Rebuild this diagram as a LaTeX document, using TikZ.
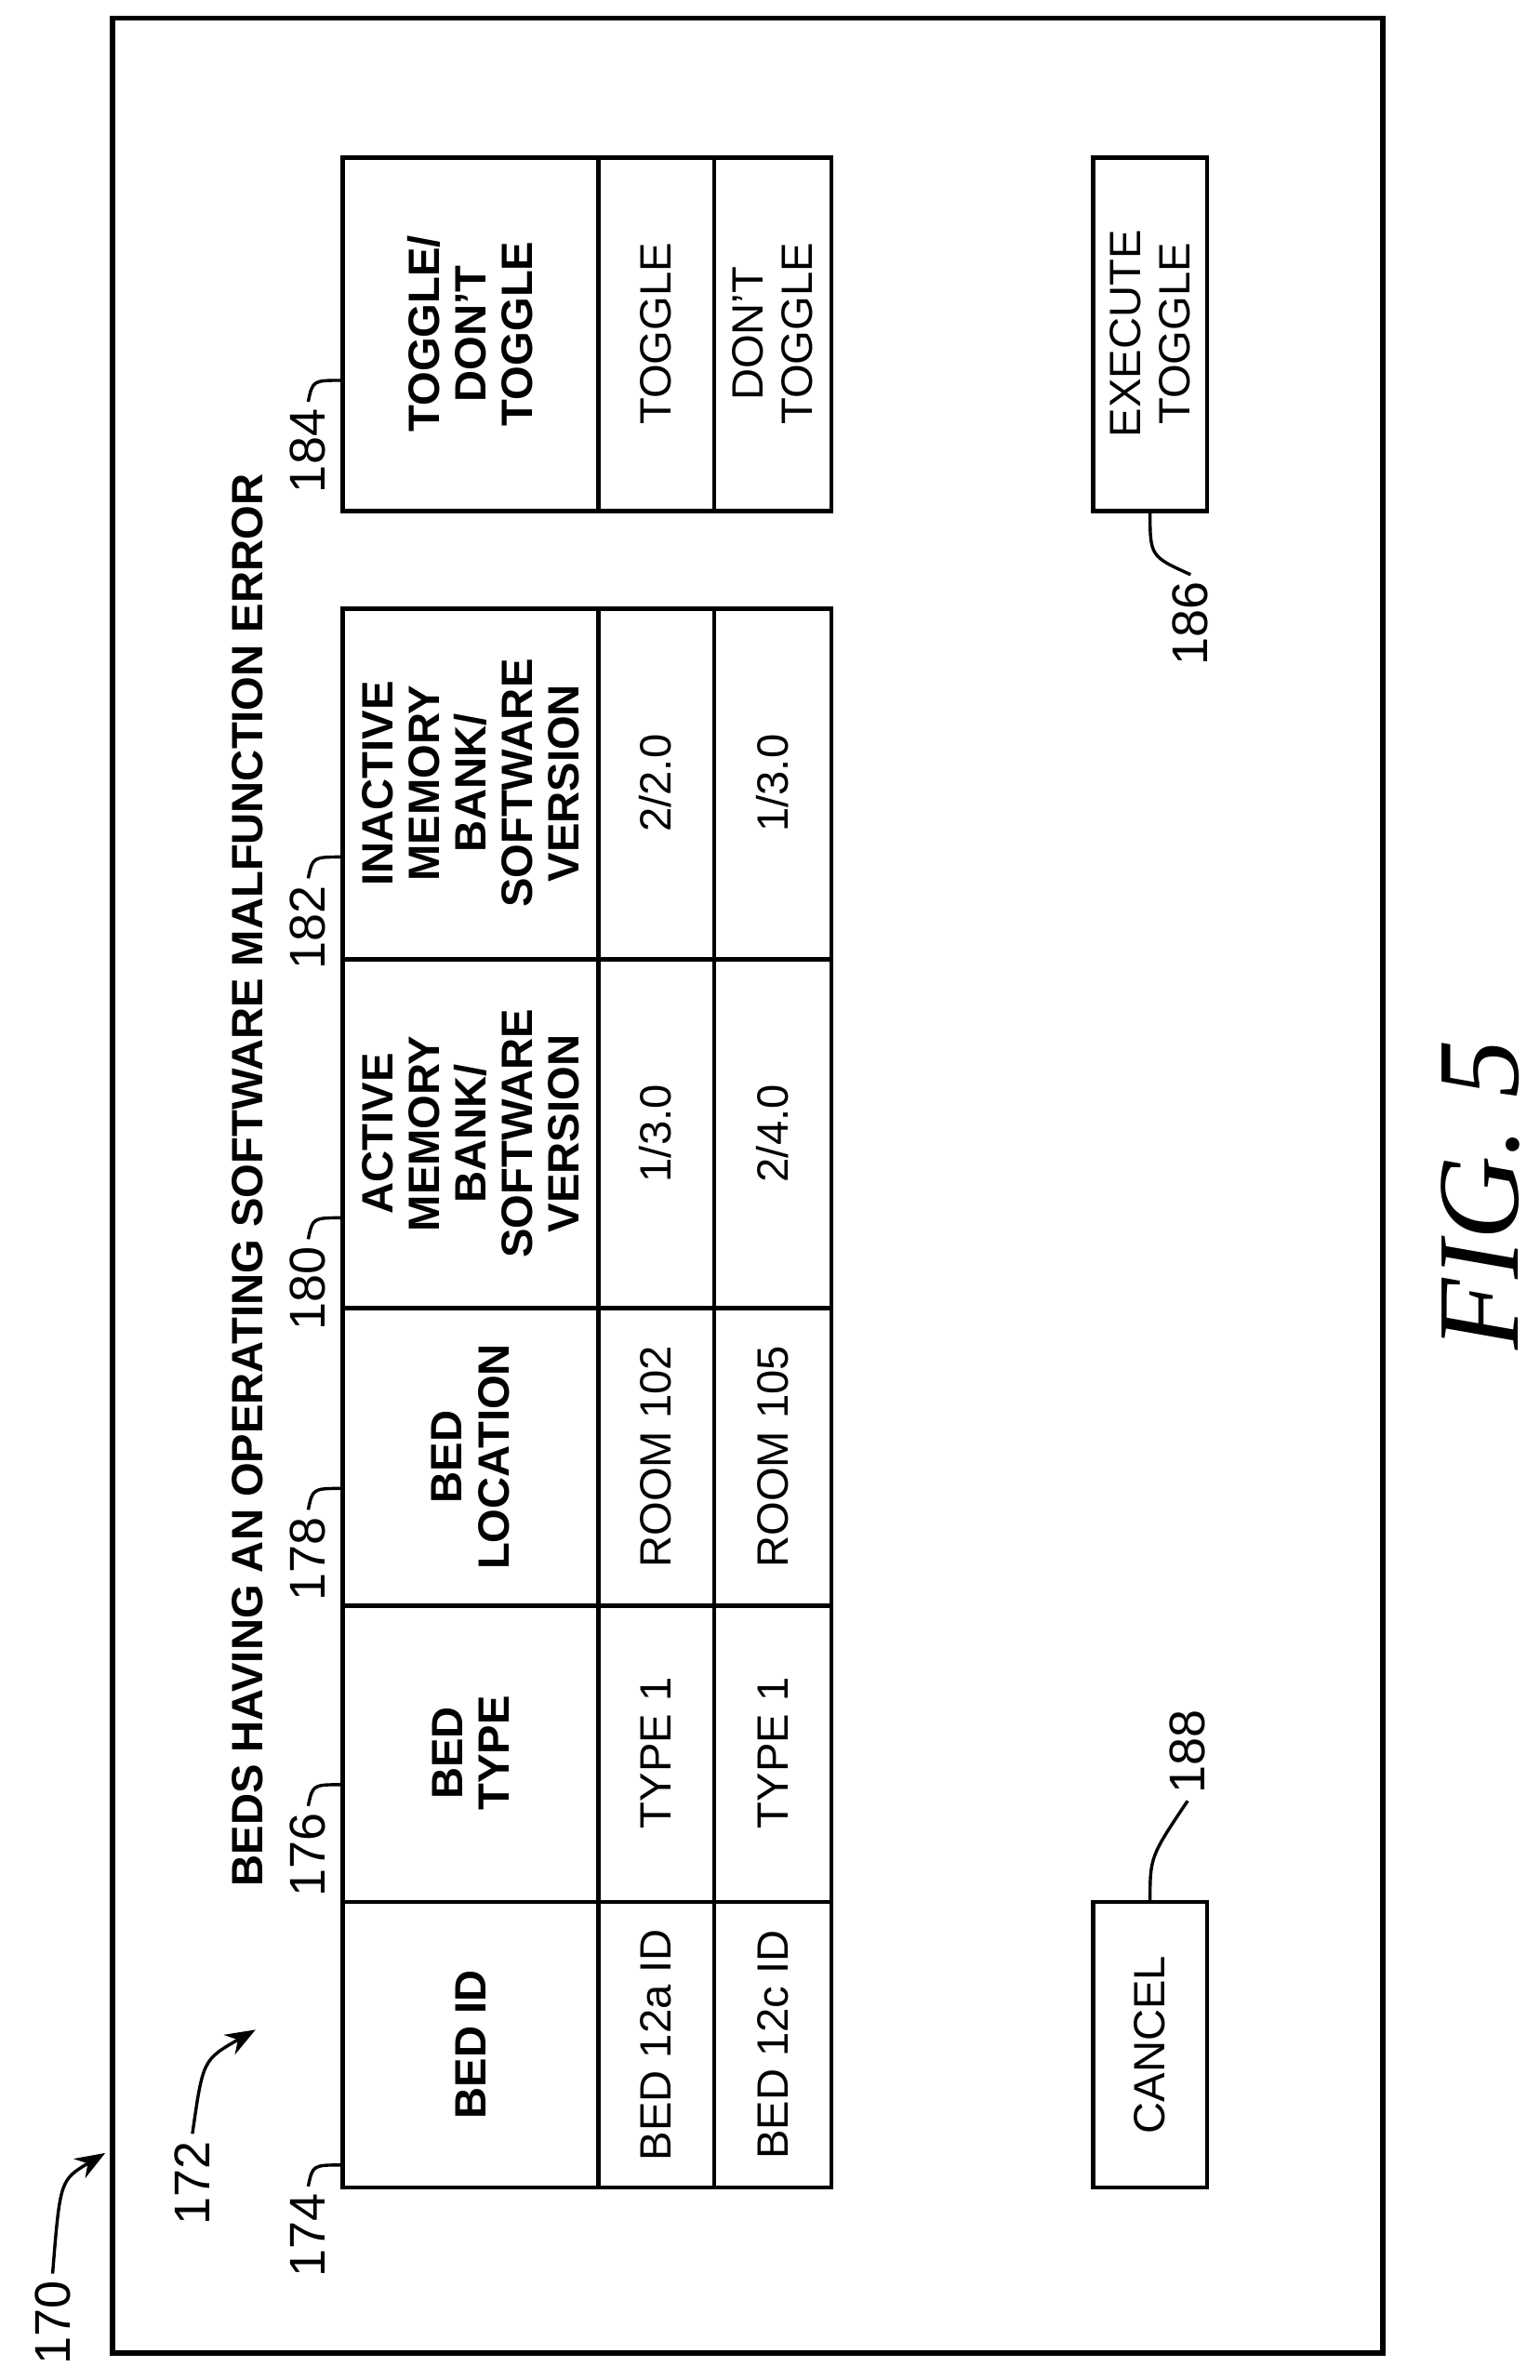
\documentclass[tikz,border=0pt]{standalone}
\usepackage{fontspec}
\setmainfont{Liberation Sans}
\newfontfamily\figfont{Liberation Serif}
\usetikzlibrary{arrows.meta}
\tikzset{
  cell/.style={rotate=90,align=center,font=\fontsize{8.3}{9.3}\selectfont},
  head/.style={cell,font=\fontsize{8.3}{8.8}\selectfont\bfseries},
  refnum/.style={rotate=90,font=\fontsize{9.5}{9.5}\selectfont,inner sep=1pt},
  lead/.style={line width=0.6pt}
}
\begin{document}
\begin{tikzpicture}[x=0.01cm,y=-0.01cm,line width=0.8pt,>=Stealth]
  \useasboundingbox (0,0) rectangle (1024,1583);
  % Frame
  \draw[line width=1pt] (75,12) rectangle (920,1565);
  %
  % Main table
  \draw (228,405) rectangle (553,1455);
  \draw (398,405) -- (398,1455);
  \draw (475,405) -- (475,1455);
  \foreach \y in {1265,1068,870,638} \draw (228,\y) -- (553,\y);
  \node[head] (h174) at (313,1360) {BED ID};
  \node[head] (h176) at (313,1166) {BED\\TYPE};
  \node[head] (h178) at (313,969) {BED\\LOCATION};
  \node[head] (h180) at (313,754) {ACTIVE\\MEMORY\\BANK/\\SOFTWARE\\VERSION};
  \node[head] (h182) at (313,521) {INACTIVE\\MEMORY\\BANK/\\SOFTWARE\\VERSION};
  \node[cell] at (436,1360) {BED 12a ID};
  \node[cell] at (436,1166) {TYPE 1};
  \node[cell] at (436,969) {ROOM 102};
  \node[cell] at (436,754) {1/3.0};
  \node[cell] at (436,521) {2/2.0};
  \node[cell] at (514,1360) {BED 12c ID};
  \node[cell] at (514,1166) {TYPE 1};
  \node[cell] at (514,969) {ROOM 105};
  \node[cell] at (514,754) {2/4.0};
  \node[cell] at (514,521) {1/3.0};
  %
  % Toggle table
  \draw (228,105) rectangle (553,340);
  \draw (398,105) -- (398,340);
  \draw (475,105) -- (475,340);
  \node[head] (h184) at (313,222) {TOGGLE/\\DON'T\\TOGGLE};
  \node[cell] at (436,222) {TOGGLE};
  \node[cell] at (514,222) {DON'T\\TOGGLE};
  %
  % Buttons
  \draw (727,105) rectangle (803,340);
  \node[cell] (exec) at (765,222) {EXECUTE\\TOGGLE};
  \draw (727,1265) rectangle (803,1455);
  \node[cell] (cancel) at (765,1360) {CANCEL};
  %
  % Title
  \node[rotate=90,font=\fontsize{8.3}{8.5}\selectfont\bfseries] (title) at (165,785)
    {BEDS HAVING AN OPERATING SOFTWARE MALFUNCTION ERROR};
  \node[rotate=90,font=\fontsize{22}{22}\selectfont\figfont\itshape] (fig) at (985,795)
    {FIG. 5};
  %
  % Reference numerals
  \node[refnum] (n170) at (35,1545) {170};
  \node[refnum] (n172) at (128,1452) {172};
  \node[refnum] (n174) at (205,1487) {174};
  \node[refnum] (n176) at (205,1234) {176};
  \node[refnum] (n178) at (205,1037) {178};
  \node[refnum] (n180) at (205,857) {180};
  \node[refnum] (n182) at (205,617) {182};
  \node[refnum] (n184) at (205,300) {184};
  \node[refnum] (n186) at (792,415) {186};
  \node[refnum] (n188) at (790,1165) {188};
  \draw[lead,->] (n170.east) .. controls (40,1450) .. (70,1432);
  \draw[lead,->] (n172.east) .. controls (135,1370) .. (170,1350);
  \draw[lead] (n174.east) .. controls (208,1440) .. (228,1440);
  \draw[lead] (n176.east) .. controls (208,1187) .. (228,1187);
  \draw[lead] (n178.east) .. controls (208,990) .. (228,990);
  \draw[lead] (n180.east) .. controls (208,810) .. (228,810);
  \draw[lead] (n182.east) .. controls (208,570) .. (228,570);
  \draw[lead] (n184.east) .. controls (208,253) .. (228,253);
  \draw[lead] (n186.east) .. controls (765,370) .. (765,340);
  \draw[lead] (n188.west) .. controls (765,1235) .. (765,1265);
\end{tikzpicture}
\end{document}
